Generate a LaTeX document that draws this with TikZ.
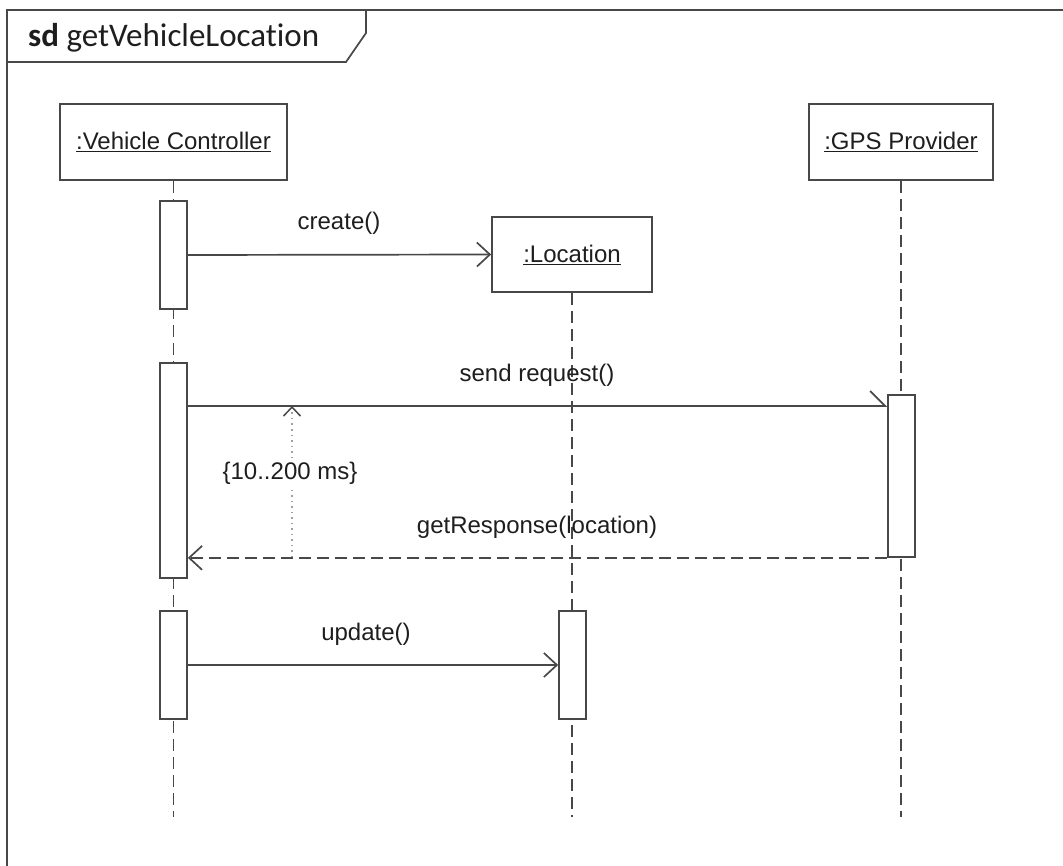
\documentclass[tikz,border=0pt]{standalone}
\usepackage{fontspec}
\setmainfont{Liberation Sans}
\newfontfamily\titlefont[Ligatures={NoCommon,NoDiscretionary}]{Carlito}
\usetikzlibrary{arrows.meta}
\definecolor{ink}{HTML}{484848}
\definecolor{txt}{HTML}{1E1E1E}
\definecolor{dots}{HTML}{A0A0A0}
\tikzset{
  every node/.style={text=txt},
  frameline/.style={draw=ink, line width=1.7pt},
  lbox/.style={draw=ink, line width=1.7pt, rectangle, inner sep=0pt, fill=white,
    font=\fontsize{24}{28}\selectfont},
  bar/.style={draw=ink, line width=1.7pt, rectangle, inner sep=0pt, fill=white,
    minimum width=27pt},
  life/.style={draw=ink, line width=1.5pt, dash pattern=on 12pt off 6pt},
  msg/.style={draw=ink, line width=1.7pt, -{Straight Barb[length=13pt,width=24pt,line width=1.7pt]}},
  async/.style={draw=ink, line width=1.7pt, -{Straight Barb[left,length=15pt,width=30pt,line width=1.7pt]}},
  reply/.style={msg, dash pattern=on 12pt off 6pt},
  lbl/.style={font=\fontsize{24}{28}\selectfont, inner sep=0pt, anchor=base},
  timing/.style={draw=dots, line width=1.5pt, dash pattern=on 1.5pt off 4pt,
    -{Straight Barb[length=9pt,width=17pt,line width=1.5pt,color=ink]}},
}
\begin{document}
\begin{tikzpicture}[x=1pt, y=-1pt]
\useasboundingbox (0,0) rectangle (1063,866);

% diagram frame with its name tab
\draw[frameline] (1063,10) -- (7,10) -- (7,866);
\draw[frameline] (7,62) -- (346,62) -- (366,33) -- (366,10);
\node[anchor=base west, inner sep=0pt, font=\titlefont\fontsize{33}{36}\selectfont]
  (title) at (28,47) {\textbf{sd} getVehicleLocation};

% participants
\node[lbox, minimum width=227pt, minimum height=76pt] (vc) at (173.5,142) {\underline{:Vehicle Controller}};
\node[lbox, minimum width=160pt, minimum height=75pt] (loc) at (572,254.5) {\underline{:Location}};
\node[lbox, minimum width=184pt, minimum height=76pt] (gps) at (901,142) {\underline{:GPS Provider}};

% lifelines
\coordinate (lifeend) at (0,817);
\draw[life] (vc.south) -- (vc.south |- lifeend);
\draw[life] (loc.south) -- (loc.south |- lifeend);
\draw[life] (gps.south) -- (gps.south |- lifeend);

% activation bars
\node[bar, minimum height=108pt] (vc1) at (173.5,255) {};
\node[bar, minimum height=215pt] (vc2) at (173.5,470.5) {};
\node[bar, minimum height=108pt] (vc3) at (173.5,665) {};
\node[bar, minimum height=162pt] (gps1) at (901.5,476) {};
\node[bar, minimum height=108pt] (loc1) at (572.5,665) {};

% messages
\draw[msg] (vc1.east) -- (loc.west);
\node[lbl] (lcreate) at (339,230) {create()};

\coordinate (sreq) at (0,406);
\draw[async] (vc2.east |- sreq) -- (gps1.west |- sreq);
\node[lbl] (lsend) at (537,382) {send request()};

\draw[reply] (gps1.south west) -- (vc2.east |- gps1.south);
\node[lbl] (lresp) at (537,533) {getResponse(location)};

\draw[msg] (vc3.east) -- (loc1.west);
\node[lbl] (lupdate) at (366,640) {update()};

% duration constraint
\coordinate (tlow) at (292,557);
\coordinate (thigh) at (292,406);
\draw[timing] (tlow) -- (thigh);
\node[font=\fontsize{24}{28}\selectfont, fill=white, inner sep=2pt] (tlabel) at (290,473) {\{10..200 ms\}};
\end{tikzpicture}
\end{document}
